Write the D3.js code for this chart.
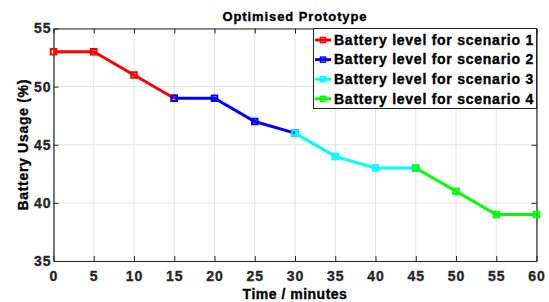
<!DOCTYPE html>
<html>
<head>
<meta charset="utf-8">
<script src="https://cdn.jsdelivr.net/npm/d3@7"></script>
<style>
body{margin:0;background:#fff;}
text{font-family:"Liberation Sans",Arial,sans-serif;font-weight:bold;}
</style>
</head>
<body>
<svg id="chart" width="549" height="302"></svg>
<script>
// data
var scenarioNames = ["Battery level for scenario 1","Battery level for scenario 2","Battery level for scenario 3","Battery level for scenario 4"];
var scenarioColors = ["#ff0000","#0000ff","#00ffff","#00ff00"];
var scenario1 = [[0,53],[5,53],[10,51],[15,49]];
var scenario2 = [[15,49],[20,49],[25,47],[30,46]];
var scenario3 = [[30,46],[35,44],[40,43],[45,43]];
var scenario4 = [[45,43],[50,41],[55,39],[60,39]];
var xTicks = [0,5,10,15,20,25,30,35,40,45,50,55,60];
var yTicks = [35,40,45,50,55];

var allSeries = [scenario1,scenario2,scenario3,scenario4];

var margin = {left:53.5,right:12.5,top:28.5,bottom:41};
var width = 549, height = 302;
var svg = d3.select("#chart");

var x = d3.scaleLinear().domain([0,60]).range([margin.left,width-margin.right]);
var y = d3.scaleLinear().domain([35,55]).range([height-margin.bottom,margin.top]);

// heavy bold look of the original
function heavy(sel,size,spacing,color){
	sel.style("font-size",size+"px").style("letter-spacing",spacing+"px")
	   .style("font-family","'Liberation Sans',Arial,sans-serif").style("font-weight","bold")
	   .attr("fill",color).attr("stroke",color).attr("stroke-width",0.35);
}

// grid
var grid = svg.append("g").attr("stroke","#e3e3e3").attr("stroke-width",1);
grid.selectAll("line.gx").data(xTicks).enter().append("line")
	.attr("x1",function(d){return x(d)}).attr("x2",function(d){return x(d)})
	.attr("y1",y(35)).attr("y2",y(55));
grid.selectAll("line.gy").data(yTicks).enter().append("line")
	.attr("y1",function(d){return y(d)}).attr("y2",function(d){return y(d)})
	.attr("x1",x(0)).attr("x2",x(60));

// axes (matlab style, ticks inside, box on)
var tickLen = 5;
var axisColor = "#262626";
svg.append("g").attr("transform","translate(0,"+y(35)+")")
	.call(d3.axisBottom(x).tickValues(xTicks).tickSize(-tickLen).tickPadding(10).tickSizeOuter(0))
	.call(function(g){g.select(".domain").attr("stroke",axisColor).attr("stroke-width",1.2)});
svg.append("g").attr("transform","translate(0,"+y(55)+")")
	.call(d3.axisTop(x).tickValues(xTicks).tickSize(-tickLen).tickFormat("").tickSizeOuter(0))
	.call(function(g){g.select(".domain").attr("stroke",axisColor).attr("stroke-width",1.2)});
svg.append("g").attr("transform","translate("+x(0)+",0)")
	.call(d3.axisLeft(y).tickValues(yTicks).tickSize(-tickLen).tickPadding(2).tickSizeOuter(0))
	.call(function(g){g.select(".domain").attr("stroke",axisColor).attr("stroke-width",1.2)});
svg.append("g").attr("transform","translate("+x(60)+",0)")
	.call(d3.axisRight(y).tickValues(yTicks).tickSize(-tickLen).tickFormat("").tickSizeOuter(0))
	.call(function(g){g.select(".domain").attr("stroke",axisColor).attr("stroke-width",1.2)});
svg.selectAll(".tick line").attr("stroke",axisColor);
svg.selectAll(".tick text").call(heavy,14,1,axisColor);

// series
var line = d3.line().x(function(d){return x(d[0])}).y(function(d){return y(d[1])});
allSeries.forEach(function(s,i){
	svg.append("path").datum(s).attr("d",line).attr("fill","none")
		.attr("stroke",scenarioColors[i]).attr("stroke-width",3);
	svg.selectAll("rect.m"+i).data(s).enter().append("rect")
		.attr("x",function(d){return x(d[0])-2.75}).attr("y",function(d){return y(d[1])-2.75})
		.attr("width",5.5).attr("height",5.5)
		.attr("fill","none").attr("stroke",scenarioColors[i]).attr("stroke-width",2);
});

// title and labels
svg.append("text").attr("x",(x(0)+x(60))/2).attr("y",21).attr("text-anchor","middle")
	.call(heavy,13,0.9,"#000").text("Optimised Prototype");
svg.append("text").attr("x",(x(0)+x(60))/2).attr("y",299).attr("text-anchor","middle")
	.call(heavy,14,0.5,"#000").text("Time / minutes");
svg.append("text").attr("transform","translate(28,"+((y(35)+y(55))/2)+") rotate(-90)")
	.attr("text-anchor","middle").call(heavy,14,0.7,"#000").text("Battery Usage (%)");

// legend
var lg = svg.append("g");
lg.append("rect").attr("x",313.5).attr("y",28.5).attr("width",x(60)-313.5).attr("height",80)
	.attr("fill","#fff").attr("stroke","#262626").attr("stroke-width",1);
var items = lg.selectAll("g.item").data(scenarioNames).enter().append("g")
	.attr("transform",function(d,i){return "translate(314,"+(40+i*19.6)+")"});
items.append("line").attr("x1",1).attr("x2",17).attr("y1",0).attr("y2",0)
	.attr("stroke",function(d,i){return scenarioColors[i]}).attr("stroke-width",3);
items.append("rect").attr("x",6.5).attr("y",-2.5).attr("width",5).attr("height",5).attr("fill","none")
	.attr("stroke",function(d,i){return scenarioColors[i]}).attr("stroke-width",1.5);
items.append("text").attr("x",20).attr("y",4.8).call(heavy,14,0.75,"#000")
	.text(function(d){return d});
</script>
</body>
</html>
